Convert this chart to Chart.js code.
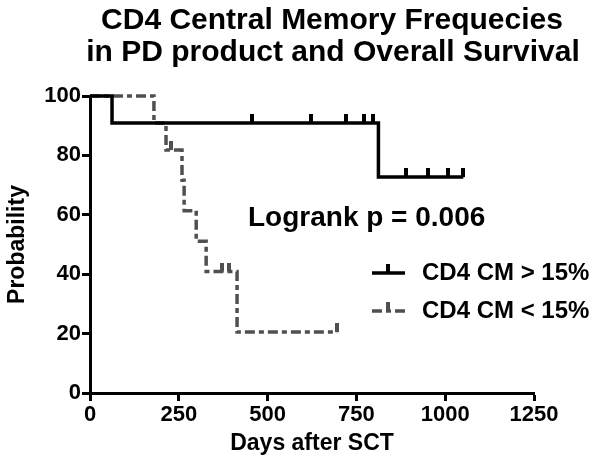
<!DOCTYPE html>
<html>
<head>
<meta charset="utf-8">
<script src="https://cdn.jsdelivr.net/npm/chart.js@4.4.1/dist/chart.umd.min.js"></script>
<style>
  html, body { margin: 0; padding: 0; background: #fff; }
  canvas { display: block; }
</style>
</head>
<body>
<canvas id="km" width="601" height="470"></canvas>
<script>
// Kaplan-Meier data (days, survival %, censored flag)
const highDays = [0, 62, 455, 622, 720, 770, 798, 812, 890, 951, 1009, 1051];
const highSurv = [100, 90.9, 90.9, 90.9, 90.9, 90.9, 90.9, 72.7, 72.7, 72.7, 72.7, 72.7];
const highCens = [0, 0, 1, 1, 1, 1, 1, 0, 1, 1, 1, 1];

const lowDays = [0, 180, 214, 228, 259, 265, 299, 327, 372, 392, 414, 696];
const lowSurv = [100, 90.9, 81.8, 81.8, 71.6, 61.4, 51.1, 40.9, 40.9, 40.9, 20.5, 20.5];
const lowCens = [0, 0, 0, 1, 0, 0, 0, 0, 1, 1, 0, 1];

const seriesLabels = ["CD4 CM > 15%", "CD4 CM < 15%"];
const titleLines = ["CD4 Central Memory Frequecies", "in PD product and Overall Survival"];
const pValueText = "Logrank p = 0.006";

const FONT = "'Liberation Sans', Arial, sans-serif";
const SOLID = "#000";
const DASHED = "#505050";
const DASH = [10, 4, 5, 4];

// censor tick: small vertical bar standing on the line
function censorMark(color) {
  const c = document.createElement("canvas");
  c.width = 4; c.height = 18;
  const g = c.getContext("2d");
  g.fillStyle = color;
  g.fillRect(0, 0, 4, 9);
  return c;
}
const tickSolid = censorMark(SOLID);
const tickDashed = censorMark(DASHED);

const toPoints = (xs, ys) => xs.map((x, i) => ({ x, y: ys[i] }));

const overlay = {
  id: "overlay",
  afterDraw(chart) {
    const ctx = chart.ctx;
    ctx.save();
    ctx.fillStyle = "#000";
    ctx.textAlign = "center";
    ctx.textBaseline = "middle";
    ctx.font = "bold 30px " + FONT;
    ctx.fillText(titleLines[0], 332, 21);
    ctx.fillText(titleLines[1], 333, 53);

    ctx.textAlign = "left";
    ctx.font = "bold 28px " + FONT;
    ctx.fillText(pValueText, 248, 218);

    // legend
    ctx.font = "bold 24px " + FONT;
    const rows = [
      { y: 273, color: SOLID, dash: [], mark: tickSolid },
      { y: 311, color: DASHED, dash: DASH, mark: tickDashed }
    ];
    rows.forEach((r, i) => {
      ctx.strokeStyle = r.color;
      ctx.lineWidth = 3.5;
      ctx.setLineDash(r.dash);
      ctx.beginPath();
      ctx.moveTo(372, r.y);
      ctx.lineTo(405, r.y);
      ctx.stroke();
      ctx.setLineDash([]);
      ctx.drawImage(r.mark, 386, r.y - 9);
      ctx.fillStyle = "#000";
      ctx.fillText(seriesLabels[i], 422, r.y);
    });
    ctx.restore();
  }
};

const axisFont = { family: FONT, size: 22, weight: "bold" };
const titleFont = { family: FONT, size: 23, weight: "bold" };

new Chart(document.getElementById("km"), {
  type: "line",
  data: {
    datasets: [
      {
        label: seriesLabels[0],
        data: toPoints(highDays, highSurv),
        stepped: true,
        borderColor: SOLID,
        borderWidth: 3.5,
        pointStyle: tickSolid,
        pointRadius: highCens.map(c => c ? 5 : 0),
        clip: false
      },
      {
        label: seriesLabels[1],
        data: toPoints(lowDays, lowSurv),
        stepped: true,
        borderColor: DASHED,
        borderWidth: 3.5,
        borderDash: DASH,
        pointStyle: tickDashed,
        pointRadius: lowCens.map(c => c ? 5 : 0),
        clip: false
      }
    ]
  },
  options: {
    responsive: false,
    animation: false,
    layout: { padding: { top: 96, right: 67, left: 0, bottom: 0 } },
    plugins: { legend: { display: false }, tooltip: { enabled: false }, title: { display: false } },
    scales: {
      x: {
        type: "linear",
        min: 0, max: 1250,
        ticks: { stepSize: 250, autoSkip: false, color: "#000", font: axisFont, padding: 1,
                 maxRotation: 0, callback: v => String(v) },
        grid: { drawOnChartArea: false, color: "#000", tickLength: 8, tickWidth: 3 },
        border: { display: true, color: "#000", width: 3 },
        title: { display: true, text: "Days after SCT", color: "#000",
                 font: titleFont, padding: { top: 0, bottom: 13 } },
        afterFit(s) { s.height = 77; }
      },
      y: {
        min: 0, max: 100,
        ticks: { stepSize: 20, autoSkip: false, color: "#000", font: axisFont, padding: 1 },
        grid: { drawOnChartArea: false, color: "#000", tickLength: 8, tickWidth: 3 },
        border: { display: true, color: "#000", width: 3 },
        title: { display: true, text: "Probability", color: "#000",
                 font: titleFont, padding: { top: 4, bottom: 0 } },
        afterFit(s) { s.width = 90; }
      }
    }
  },
  plugins: [overlay]
});
</script>
</body>
</html>
